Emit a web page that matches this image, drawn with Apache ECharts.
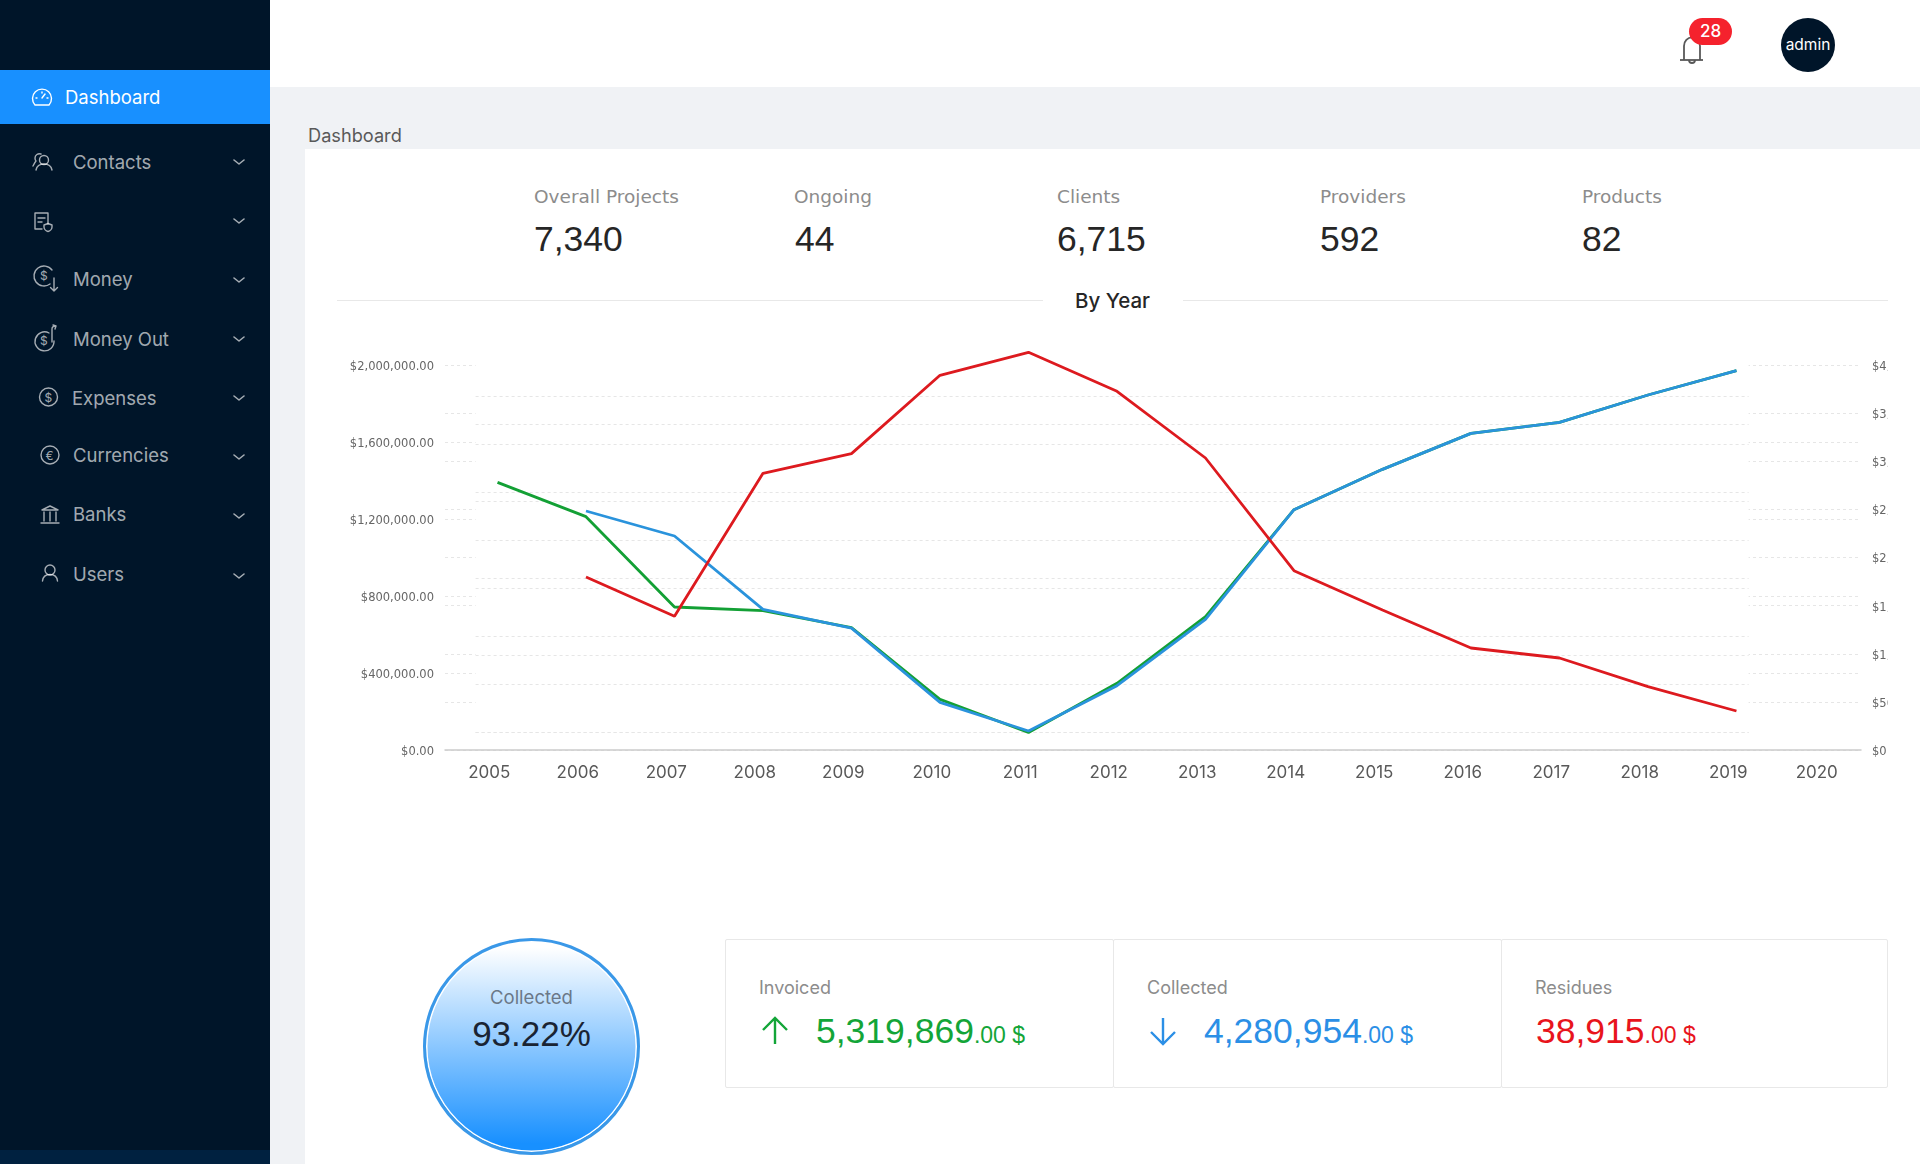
<!DOCTYPE html>
<html>
<head>
<meta charset="utf-8">
<title>Dashboard</title>
<script src="https://cdn.jsdelivr.net/npm/echarts@6/dist/echarts.min.js"></script>
<style>
    html, body { margin: 0; padding: 0; width: 1920px; height: 1164px; overflow: hidden; background: #f0f2f5; font-family: Inter, sans-serif; }
    .abs, .abs * { box-sizing: border-box; }
    .abs { position: absolute; white-space: nowrap; }
    #side { left: 0; top: 0; width: 270px; height: 1164px; background: #001529; }
    #side-bottom { left: 0; top: 1150px; width: 270px; height: 14px; background: #002140; }
    #active { left: 0; top: 70px; width: 270px; height: 54px; background: #1890ff; }
    #head { left: 270px; top: 0; width: 1650px; height: 87px; background: #fff; }
    #card { left: 305px; top: 149px; width: 1615px; height: 1015px; background: #fff; }
    .menu { font-size: 18.5px; line-height: 24px; color: rgba(255,255,255,.65); transform: translateY(-50%); }
    .ico { fill: none; stroke: rgba(255,255,255,.65); stroke-width: 1.4; stroke-linecap: round; stroke-linejoin: round; }
    .stat-l { font: 18.5px "DejaVu Sans", sans-serif; color: #8c8c8c; transform: translateY(-50%); }
    .stat-v { font: 35.5px "Liberation Sans", sans-serif; color: #262626; transform: translateY(-50%); }
    .rule { height: 1px; background: #e8e8e8; top: 300px; }
    .box { top: 939px; height: 149px; border: 1px solid #e8e8e8; border-radius: 2px; background: #fff; }
    .box-l { font-size: 18px; color: #8c8c8c; top: 977px; line-height: 22px; }
    .box-v { font: 35.5px "Liberation Sans", sans-serif; top: 1010px; line-height: 42px; }
    .box-v small { font-size: 23px; }
    #circle { left: 423px; top: 938px; width: 217px; height: 217px; border-radius: 50%; border: 3px solid #3a98e8;
        background: linear-gradient(#ffffff 3%, #1890ff 96%); box-shadow: inset 0 0 0 1.5px #fff; }
    #chart { left: 340px; top: 330px; width: 1548px; height: 470px; }
</style>
</head>
<body>
<div class="abs" id="side"></div>
<div class="abs" id="side-bottom"></div>
<div class="abs" id="active"></div>
<div class="abs" id="head"></div>
<div class="abs" id="card"></div>

<div class="abs menu" style="left:65px;top:97px;color:#fff">Dashboard</div>
<div class="abs menu" style="left:73px;top:162px">Contacts</div>
<div class="abs menu" style="left:73px;top:279px">Money</div>
<div class="abs menu" style="left:73px;top:339px">Money Out</div>
<div class="abs menu" style="left:72px;top:398px">Expenses</div>
<div class="abs menu" style="left:73px;top:455px">Currencies</div>
<div class="abs menu" style="left:73px;top:514px">Banks</div>
<div class="abs menu" style="left:73px;top:574px">Users</div>

<svg class="abs" style="left:0;top:0" width="270" height="620">
    <g class="ico" style="stroke:#fff" transform="translate(0,2)">
        <path d="M35 103 a9.5 9.5 0 1 1 14 0 z"/><path d="M42 96 l3 -4"/><path d="M36 96 h1 M47 96 h1 M42 90 v1"/>
    </g>
    <g class="ico">
        <circle cx="44" cy="160" r="4.5"/><path d="M36 170 c1 -5 5 -6 8 -6 s7 1 8 6"/><path d="M41 154 c-3 -1 -6 1 -6 4 c0 2 1 3 1 3 c-1 1 -2 3 -3 5"/>
        <path d="M35 213 h13 v11 M35 213 v16 h7 M38 218 h7 M38 222 h4"/><path d="M44 225 l4 -1.5 l4 1.5 v2 c0 2 -2 4 -4 4.5 c-2 -.5 -4 -2.5 -4 -4.5 z"/>
        <path d="M52 270 A10 10 0 1 0 50 284"/><path d="M54 278 v13 m-3.5 -3.5 l3.5 3.5 l3.5 -3.5"/><text x="40" y="280" font-size="12" fill="rgba(255,255,255,.65)" stroke="none">$</text>
        <path d="M49 333 a9.5 9.5 0 1 0 5 8"/><path d="M52 342 v-13 c0 -2 2 -3 4 -3 m-3 -1 l3 1 l-1 3"/><text x="40" y="345" font-size="12" fill="rgba(255,255,255,.65)" stroke="none">$</text>
        <circle cx="48.5" cy="397" r="9"/><text x="44.5" y="401.5" font-size="12" fill="rgba(255,255,255,.65)" stroke="none">$</text>
        <circle cx="50" cy="455" r="9"/><text x="45.5" y="459.5" font-size="12" fill="rgba(255,255,255,.65)" stroke="none">€</text>
        <path d="M42 510 l8 -4 l8 4 z M44 512 v9 M50 512 v9 M56 512 v9 M41 523 h18"/>
        <circle cx="50" cy="570" r="5"/><path d="M42.5 581 c.5 -5 3.5 -6.5 7.5 -6.5 s7 1.5 7.5 6.5"/>
    </g>
    <g class="ico" id="chevrons" style="stroke-width:1.6">
        <path d="M234 160 l5 4 l5 -4 M234 219 l5 4 l5 -4 M234 278 l5 4 l5 -4 M234 337 l5 4 l5 -4 M234 396 l5 4 l5 -4 M234 455 l5 4 l5 -4 M234 514 l5 4 l5 -4 M234 574 l5 4 l5 -4"/>
    </g>
</svg>

<svg class="abs" style="left:1670px;top:30px" width="40" height="40">
    <g fill="none" stroke="#595959" stroke-width="1.8" stroke-linejoin="round">
        <path d="M14 30 v-14 a7.5 8 0 0 1 16 0 v14"/><path d="M10 30 h23"/><path d="M19 30 a3 3 0 0 0 6 0"/>
    </g>
</svg>
<div class="abs" style="left:1689px;top:18px;width:43px;height:27px;border-radius:14px;background:#f5222d;color:#fff;font-size:17px;font-weight:500;line-height:27px;text-align:center">28</div>
<div class="abs" style="left:1781px;top:18px;width:54px;height:54px;border-radius:50%;background:#001529;color:#fff;font-size:15.5px;line-height:54px;text-align:center">admin</div>

<div class="abs" style="left:308px;top:135px;transform:translateY(-50%);font-size:18.2px;color:#595959">Dashboard</div>

<div class="abs stat-l" style="left:534px;top:196px">Overall Projects</div>
<div class="abs stat-v" style="left:534px;top:239px">7,340</div>
<div class="abs stat-l" style="left:794px;top:196px">Ongoing</div>
<div class="abs stat-v" style="left:795px;top:239px">44</div>
<div class="abs stat-l" style="left:1057px;top:196px">Clients</div>
<div class="abs stat-v" style="left:1057px;top:239px">6,715</div>
<div class="abs stat-l" style="left:1320px;top:196px">Providers</div>
<div class="abs stat-v" style="left:1320px;top:239px">592</div>
<div class="abs stat-l" style="left:1582px;top:196px">Products</div>
<div class="abs stat-v" style="left:1582px;top:239px">82</div>

<div class="abs rule" style="left:337px;width:706px"></div>
<div class="abs rule" style="left:1183px;width:705px"></div>
<div class="abs" style="left:1075px;top:300px;transform:translateY(-50%);font-size:20.5px;font-weight:500;color:#262626">By Year</div>

<div class="abs" id="chart"></div>

<div class="abs" id="circle"></div>
<div class="abs" style="left:423px;width:217px;top:997px;transform:translateY(-50%);text-align:center;font-size:18.5px;color:#6b7888">Collected</div>
<div class="abs" style="left:423px;width:217px;top:1034px;transform:translateY(-50%);text-align:center;font:35px 'Liberation Sans',sans-serif;color:#1a2433">93.22%</div>

<div class="abs box" style="left:725px;width:389px"></div>
<div class="abs box" style="left:1113px;width:389px"></div>
<div class="abs box" style="left:1501px;width:387px"></div>
<div class="abs box-l" style="left:759px">Invoiced</div>
<div class="abs box-l" style="left:1147px">Collected</div>
<div class="abs box-l" style="left:1535px">Residues</div>
<svg class="abs" style="left:760px;top:1014px" width="30" height="34"><path d="M15 30 V4 M3 16 L15 4 L27 16" fill="none" stroke="#13a538" stroke-width="2.4"/></svg>
<svg class="abs" style="left:1148px;top:1014px" width="30" height="34"><path d="M15 4 V30 M3 18 L15 30 L27 18" fill="none" stroke="#2b8fe6" stroke-width="2.4"/></svg>
<div class="abs box-v" style="left:816px;color:#13a538">5,319,869<small>.00 $</small></div>
<div class="abs box-v" style="left:1204px;color:#2b8fe6">4,280,954<small>.00 $</small></div>
<div class="abs box-v" style="left:1536px;color:#e8141c">38,915<small>.00 $</small></div>

<script>
    // values, year by year
    var axisYears = ['2005','2006','2007','2008','2009','2010','2011','2012','2013','2014','2015','2016','2017','2018','2019','2020'];
    var pointYears = [2005,2006,2007,2008,2009,2010,2011,2012,2013,2014,2015,2016,2017,2018,2019];
    var invoiced = [1300600,1122200,653000,633900,545600,173300,1000,256500,602800,1158600,1368100,1555100,1612300,1754300,1880700];
    var collected = [null,1151700,1021800,640900,543000,157800,8800,244300,588900,1158600,1368100,1555100,1612300,1754300,1880700];
    var residues = [null,808800,604500,1347400,1449500,1856500,1976000,1773300,1427000,841700,637400,440000,388100,239100,112700];

    var gridDash = {show: true, lineStyle: {color: '#e6e6e6', type: [3, 3], width: 1}};
    var innerDash = {show: true, showMaxLine: false, lineStyle: {color: '#e6e6e6', type: [3, 3], width: 1}};
    var hidden = {show: false};
    var moneyLabel = {
        margin: 11,
        formatter: function (v) { return '{m|' + money(v) + '}'; },
        // nudges the text down to where the labels sit in the picture
        rich: {m: {color: '#666', fontSize: 11.5, fontFamily: 'DejaVu Sans', padding: [4, 0, 0, 0]}}
    };

    function money(v) {
        return '$' + v.toLocaleString('en-US', {minimumFractionDigits: 2, maximumFractionDigits: 2});
    }
    function pairs(values) {
        return pointYears.map(function (y, i) { return [y, values[i]]; });
    }
    function lineSeries(name, values, color) {
        return {
            name: name,
            type: 'line',
            xAxisIndex: 1,
            yAxisIndex: 2,
            z: 3,
            showSymbol: false,
            data: pairs(values),
            lineStyle: {color: color, width: 2.8},
            itemStyle: {color: color}
        };
    }

    var myChart = echarts.init(document.getElementById('chart'));
    myChart.setOption({
        animation: false,
        textStyle: {fontFamily: 'Inter'},
        tooltip: {trigger: 'axis'},
        grid: [
            {left: 105, right: 27, top: 35, height: 385, outerBoundsMode: 'none'},
            // the plot sits on its own white panel, a bit above the labelled axes
            {left: 135.6, width: 1273, top: 17.7, height: 385, outerBoundsMode: 'none', show: true, backgroundColor: '#fff', borderWidth: 0, z: 1}
        ],
        xAxis: [
            {
                type: 'category',
                data: axisYears,
                gridIndex: 0,
                axisLine: {lineStyle: {color: '#cccccc', width: 1.5}},
                axisTick: {alignWithLabel: true, length: 5, lineStyle: {color: '#cccccc'}},
                axisLabel: {color: '#595959', fontSize: 17, margin: 14, fontFamily: 'Inter'},
                splitLine: hidden
            },
            {type: 'value', gridIndex: 1, min: 2004.7525, max: 2019.137, show: false}
        ],
        yAxis: [
            {
                type: 'value', gridIndex: 0, position: 'left', min: 0, max: 2000000, interval: 400000,
                axisLine: hidden, axisTick: hidden, splitLine: gridDash, axisLabel: moneyLabel
            },
            {
                type: 'value', gridIndex: 0, position: 'right', min: 0, max: 4000000, interval: 500000,
                axisLine: hidden, axisTick: hidden, splitLine: gridDash, axisLabel: moneyLabel
            },
            {
                type: 'value', gridIndex: 1, position: 'left', min: 0, max: 2000000, interval: 400000, z: 2,
                axisLine: hidden, axisTick: hidden, axisLabel: hidden, splitLine: innerDash
            },
            {
                type: 'value', gridIndex: 1, position: 'right', min: 0, max: 4000000, interval: 500000, z: 2,
                axisLine: hidden, axisTick: hidden, axisLabel: hidden, splitLine: innerDash
            }
        ],
        series: [
            lineSeries('Invoiced', invoiced, '#13a035'),
            lineSeries('Collected', collected, '#2a93dc'),
            lineSeries('Residues', residues, '#dd1a1f')
        ]
    });
</script>
</body>
</html>
